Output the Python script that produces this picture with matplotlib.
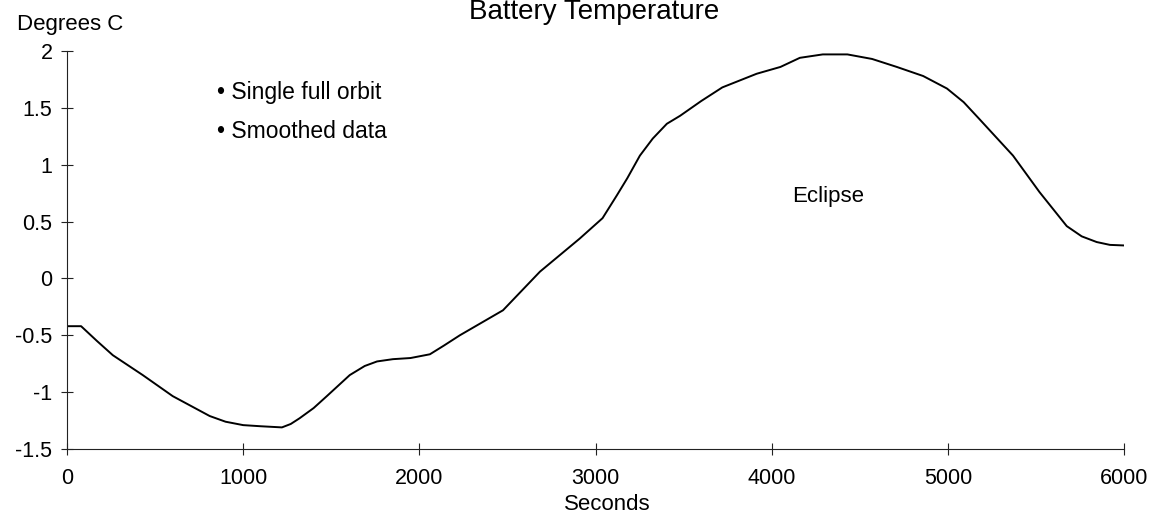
import matplotlib
matplotlib.use('Agg')
import matplotlib.pyplot as plt
from matplotlib.ticker import FuncFormatter

plt.rcParams['font.family'] = ['Liberation Sans', 'DejaVu Sans']
plt.rcParams['axes.unicode_minus'] = False

# values (seconds, degrees C)
seconds = [0, 80, 170, 260, 430, 600, 810, 900, 1000, 1100, 1220, 1270, 1320,
           1400, 1475, 1605, 1690, 1760, 1850, 1950, 2060, 2140, 2230, 2475,
           2685, 2910, 3040, 3121, 3180, 3252, 3325, 3405, 3480, 3600, 3720,
           3915, 4050, 4160, 4290, 4430, 4570, 4710, 4860, 4995, 5090, 5180,
           5370, 5520, 5675, 5760, 5845, 5920, 6000]
temperature = [-0.42, -0.42, -0.55, -0.675, -0.85, -1.035, -1.21, -1.26, -1.29,
               -1.30, -1.31, -1.28, -1.23, -1.14, -1.035, -0.85, -0.77, -0.73,
               -0.71, -0.70, -0.667, -0.59, -0.50, -0.28, 0.06, 0.35, 0.53,
               0.73, 0.88, 1.08, 1.23, 1.36, 1.43, 1.56, 1.68, 1.80, 1.86,
               1.94, 1.97, 1.97, 1.93, 1.86, 1.78, 1.67, 1.55, 1.40, 1.08,
               0.76, 0.46, 0.37, 0.32, 0.295, 0.29]

x_ticks = [0, 1000, 2000, 3000, 4000, 5000, 6000]
y_ticks = [-1.5, -1, -0.5, 0, 0.5, 1, 1.5, 2]

W, H = 1156, 516
fig = plt.figure(figsize=(W / 100, H / 100), dpi=100)
ax = fig.add_axes([67 / W, 67 / H, 1057 / W, 398 / H])

ax.plot(seconds, temperature, color='black', linewidth=1.4,
        solid_joinstyle='round')

ax.set_xlim(0, 6000)
ax.set_ylim(-1.5, 2)
ax.set_xticks(x_ticks)
ax.set_yticks(y_ticks)
ax.yaxis.set_major_formatter(FuncFormatter(lambda v, p: f'{v:g}'))

for side in ['top', 'right']:
    ax.spines[side].set_visible(False)
for side in ['left', 'bottom']:
    ax.spines[side].set_linewidth(0.8)
    ax.spines[side].set_color('#222222')

ax.tick_params(direction='inout', length=9, width=0.8, labelsize=15.5,
               color='#222222')
ax.tick_params(axis='x', pad=9)
ax.tick_params(axis='y', pad=6)

# annotations
ax.text(851, 1.58, '\u2022 Single full orbit', fontsize=16.5, va='baseline')
ax.text(851, 1.237, '\u2022 Smoothed data', fontsize=16.5, va='baseline')
ax.text(4115, 0.675, 'Eclipse', fontsize=16, va='baseline')

fig.text(594 / W, 1 - 19 / H, 'Battery Temperature', fontsize=20,
         ha='center', va='baseline')
fig.text(17 / W, 1 - 30 / H, 'Degrees C', fontsize=16, va='baseline')
fig.text(607 / W, 6 / H, 'Seconds', fontsize=16, ha='center', va='baseline')

fig.savefig('out.png', dpi=100)
